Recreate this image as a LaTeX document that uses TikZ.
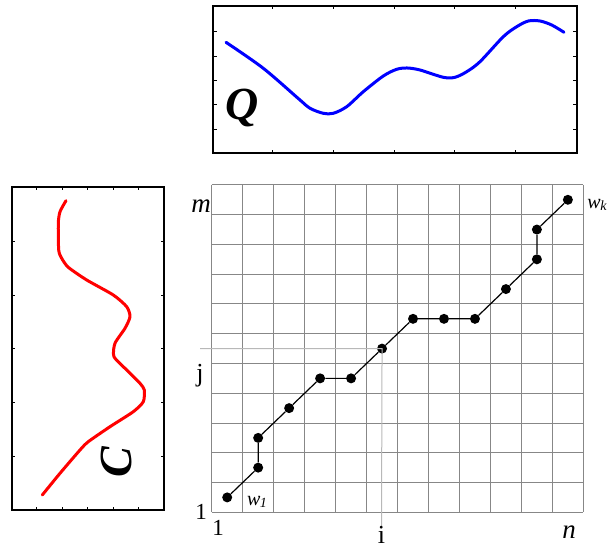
\documentclass[tikz,border=0pt]{standalone}
\usepackage{fontspec}
\setmainfont{Liberation Serif}
\begin{document}
\begin{tikzpicture}[x=1pt,y=-1pt,
  boxline/.style={line width=2pt,black},
  tickline/.style={line width=0.9pt,black},
  gridline/.style={line width=1pt,color=black!47},
  guideline/.style={line width=1pt,color=black!28},
  pathline/.style={line width=1.2pt,black},
  dotnode/.style={circle,fill=black,inner sep=0pt,minimum size=10pt},
  lbl/.style={font=\fontsize{23}{23}\selectfont,inner sep=0pt},
  ijlbl/.style={font=\fontsize{26}{26}\selectfont,inner sep=0pt},
  ilbl/.style={font=\fontsize{27}{27}\selectfont\itshape,inner sep=0pt},
  wlbl/.style={font=\fontsize{20}{20}\selectfont\itshape,inner sep=0pt},
  bigletter/.style={font=\fontsize{46}{46}\selectfont\bfseries\itshape,inner sep=0pt}]
\useasboundingbox (0,0) rectangle (614,548);
% ---------- Q panel ----------
\draw[boxline] (213.3,6) rectangle (576.7,153.3);
\foreach \x in {272.7,333.3,394,454.7,515}{
  \draw[tickline] (\x,153.3) -- (\x,150);
  \draw[tickline] (\x,6) -- (\x,9.3);}
\foreach \y in {31.7,56,80,104.3,129}{
  \draw[tickline] (576.7,\y) -- (573.4,\y);
  \draw[tickline] (213.3,\y) -- (216.6,\y);}
\draw[blue,line width=3pt,line cap=round,line join=round] plot[smooth,tension=0.5] coordinates{
 (226,42.3) (263.3,68.3) (300,100) (310,108.3) (323.3,113.3) (333.3,113.3) (346.7,106.7)
 (363.3,91.7) (383.3,76) (396.7,69.3) (407.3,68) (420,70) (443.3,77.3) (455,77.3)
 (466.7,71.7) (480,61.7) (503.3,36.7) (516.7,26.7) (528.3,21) (540,21) (551.7,25) (564,32.3)};
\node[bigletter] (qlabel) at (242,108) {Q};
% ---------- C panel ----------
\draw[boxline] (11.7,186.7) rectangle (164,510);
\foreach \x in {36.7,62.3,87.7,113.3,138.3}{
  \draw[tickline] (\x,186.7) -- (\x,190);
  \draw[tickline] (\x,510) -- (\x,506.7);}
\foreach \y in {241,295,348.3,402.7,456.7}{
  \draw[tickline] (164,\y) -- (160.7,\y);
  \draw[tickline] (11.7,\y) -- (15,\y);}
\draw[red,line width=3pt,line cap=round,line join=round] plot[smooth,tension=0.4] coordinates{
 (66,200.7) (60,211.7) (58.3,223.3) (58.7,250) (61.7,258.3) (68.3,267.3) (86.7,280)
 (113.3,295) (126.7,306.7) (130,316.7) (125,328.3) (115,343.3) (114,356.7) (126.7,370)
 (140,383.3) (144.3,390) (143.3,401.7) (133.3,411.7) (110,426.7) (88.3,441.7) (80,450)
 (60,473.3) (42.3,495)};
\node[bigletter,rotate=90] (clabel) at (116,462) {C};
% ---------- grid ----------
\foreach \k in {0,...,12}{
  \draw[gridline] ({211.7+30.97*\k},185) -- ({211.7+30.97*\k},512.3);}
\foreach \k in {0,...,11}{
  \draw[gridline] (211.7,{512.3-29.76*\k}) -- (583.3,{512.3-29.76*\k});}
\coordinate (jend) at (200,348.6);
\coordinate (iend) at (381.5,528);
% ---------- warping path ----------
\foreach \c/\r/\n in {0/0/p0,1/1/p1,1/2/p2,2/3/p3,3/4/p4,4/4/p5,5/5/p6,6/6/p7,7/6/p8,8/6/p9,9/7/p10,10/8/p11,10/9/p12,11/10/p13}{
  \node[dotnode] (\n) at ({227.2+30.97*\c},{497.4-29.76*\r}) {};}
\draw[guideline] (jend) -- (p6.center) -- (iend);
\draw[pathline] (p0) -- (p1) -- (p2) -- (p3) -- (p4) -- (p5) -- (p6) -- (p7) -- (p8) -- (p9) -- (p10) -- (p11) -- (p12) -- (p13);
% ---------- labels ----------
\node[ilbl] (mlab) at (201,206) {m};
\node[ilbl] (nlab) at (569,532) {n};
\node[ijlbl] (jlab) at (200,376) {j};
\node[ijlbl] (ilab) at (381.5,535) {i};
\node[lbl] (onel) at (201,512) {1};
\node[lbl] (oneb) at (218,528) {1};
\node[wlbl] (wk) at (597,205) {w\kern-0.5pt\raisebox{-2pt}{\fontsize{14}{14}\selectfont k}};
\node[wlbl] (w1) at (257,502) {w\kern-0.5pt\raisebox{-2pt}{\fontsize{14}{14}\selectfont 1}};
\end{tikzpicture}
\end{document}
